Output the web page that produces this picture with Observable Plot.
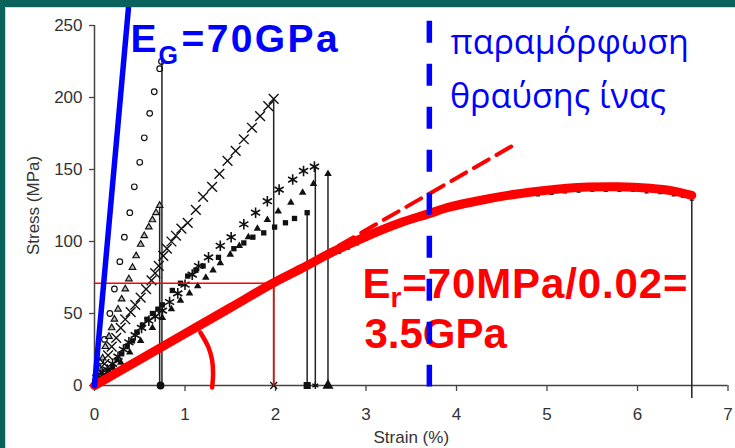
<!DOCTYPE html>
<html><head><meta charset="utf-8">
<script src="https://cdn.jsdelivr.net/npm/d3@7"></script>
<script src="https://cdn.jsdelivr.net/npm/@observablehq/plot@0.6"></script>
<style>
html,body{margin:0;padding:0;background:#fff;}
#frame{width:735px;height:448px;box-sizing:border-box;border-top:7px solid #0a625d;border-left:5px solid #0a625d;overflow:hidden;}
#inner{box-sizing:border-box;border-top:1px solid #bfe3de;border-left:1px solid #bfe3de;width:730px;height:441px;background:#fff;}
#inner svg{display:block;overflow:visible;}
</style></head><body><div id="frame"><div id="inner"></div></div>
<script>
// ---- data (strain %, stress MPa) ----
const xTicks = [0, 1, 2, 3, 4, 5, 6, 7];
const yTicks = [0, 50, 100, 150, 200, 250];

const openCircles = [[0.01,3],[0.04,9],[0.07,17],[0.11,32],[0.17,50],[0.22,67],[0.28,86],[0.33,103],[0.39,120],[0.44,138],[0.50,155],[0.55,172],[0.61,189],[0.66,204],[0.72,220],[0.74,225]];
const openTriangles = [[0.03,6],[0.06,12],[0.09,19],[0.12,27],[0.16,34],[0.19,40],[0.22,46],[0.26,53],[0.30,60],[0.34,67],[0.38,74],[0.42,82],[0.46,90],[0.51,98],[0.55,104],[0.60,110],[0.64,115],[0.68,120],[0.72,125]];
const crosses = [[0.03,4],[0.07,9],[0.11,15],[0.15,21],[0.19,27],[0.24,33],[0.29,40],[0.34,46],[0.40,51],[0.45,56],[0.51,61],[0.57,67],[0.63,73],[0.67,78],[0.71,83],[0.76,90],[0.80,95],[0.85,100],[0.90,104],[0.96,109],[1.03,113],[1.12,122],[1.20,131],[1.30,138],[1.38,147],[1.47,156],[1.56,163],[1.65,171],[1.74,179],[1.83,187],[1.92,194],[1.98,199]];
const squares = [[0.05,3],[0.10,7],[0.15,10],[0.20,13],[0.25,18],[0.30,22],[0.36,27],[0.42,31],[0.47,37],[0.53,42],[0.58,46],[0.64,50],[0.70,53],[0.75,56],[0.86,66],[0.95,71],[1.03,76],[1.12,80],[1.20,83],[1.37,89],[1.54,95],[1.65,99],[1.75,103],[1.87,106],[1.99,110],[2.11,113],[2.21,116],[2.35,120]];
const filledTriangles = [[0.05,3],[0.10,6],[0.15,9],[0.20,12],[0.29,16],[0.39,23],[0.51,31],[0.64,40],[0.75,47],[0.85,53],[0.95,59],[1.05,64],[1.14,69],[1.23,75],[1.31,80],[1.39,85],[1.50,91],[1.60,97],[1.70,103],[1.80,109],[1.91,115],[2.03,121],[2.17,127],[2.30,134],[2.42,140],[2.58,147]];
const asterisks = [[0.04,3],[0.09,7],[0.14,11],[0.20,15],[0.26,20],[0.32,25],[0.38,30],[0.45,35],[0.52,40],[0.60,45],[0.67,48],[0.75,52],[0.83,58],[0.92,64],[1.00,70],[1.08,77],[1.15,83],[1.26,89],[1.39,97],[1.51,103],[1.65,112],[1.78,120],[1.91,128],[2.04,136],[2.19,143],[2.31,149],[2.43,152]];

// fracture drop lines: strain, top stress, bottom stress
const dropStrain = [0.745, 0.72, 1.98, 2.35, 2.44, 2.58, 6.6];
const dropTop    = [225, 125, 199, 120, 152, 147, 132];
const dropBottom = [0, 0, 0, 0, 0, 0, -9];
// markers sitting on the axis at fracture
const footStrain = [0.73, 1.98, 2.35, 2.44, 2.58];
const footSymbol = ["circle", "times", "square", "asterisk", "triangle"];

// matrix (resin) curve, red
const matrixCurve = [[0,0],[0.5,18],[1,36],[1.5,54],[1.97,71],[2.28,81],[2.64,93],[3.02,104],[3.38,113],[3.68,119],[3.93,124],[4.3,129],[4.67,133],[5.22,137],[5.78,138],[6.14,137],[6.4,135],[6.6,132]];
const matrixMarkers = [[2.7,95],[2.8,98],[2.9,101],[3.0,104],[4.9,135],[5.05,136],[5.2,137],[5.35,137.5],[5.5,138],[5.65,138],[5.8,138],[5.95,138],[6.1,137],[6.25,136.5],[6.4,135],[6.5,134],[6.6,132]];
const tangentLine = [[2.45,88],[4.66,168]];
const glassLine = [[0,0],[0.375,262]];
const fibreFailureStrain = [3.70];
const fibreFailureRange = [253, -1];
const slopeRead = [[0,71],[1.98,71],[1.98,0]];
const angleArc = [[1.17,36.8],[1.26,26.4],[1.30,17.4],[1.31,8.3],[1.30,-1.4]];

// annotations (anchor in data units, baseline)
const egText = [
  {t:"E", x:0.398, y:231.3, s:"main"},
  {t:"G", x:0.707, y:223.6, s:"sub"},
  {t:"=70GPa", x:0.961, y:231.3, s:"main"}
];
const erText = [
  {t:"E", x:2.961, y:61.1, s:"main"},
  {t:"r", x:3.271, y:54.2, s:"sub"},
  {t:"=70MPa/0.02=", x:3.400, y:61.1, s:"main"},
  {t:"3.5GPa", x:2.983, y:25.7, s:"main"}
];
const greekText = [
  {t:"παραμόρφωση", x:3.934, y:229.9},
  {t:"θραύσης ίνας", x:3.928, y:192.4}
];

const drops = dropStrain.map((x, i) => ({x, y1: dropTop[i], y2: dropBottom[i]}));
const feet = footStrain.map((x, i) => ({x, y: 0, sym: footSymbol[i]}));
const px = d => d[0], py = d => d[1];
const BLUE = "#0000ff", RED = "#ff0000";
const font = "'Liberation Sans', Arial, Helvetica, sans-serif";

const chart = Plot.plot({
  width: 729, height: 440,
  marginLeft: 88, marginRight: 7.5, marginTop: 17, marginBottom: 63,
  x: {domain: [0, 7]},
  y: {domain: [0, 250]},
  style: {fontFamily: font, fontSize: "17px", color: "#333", background: "transparent", overflow: "visible"},
  marks: [
    Plot.axisY({ticks: yTicks, tickFormat: d3.format("d"), tickSize: 5, tickPadding: 7, fontSize: 17, stroke: "#444", strokeWidth: 1.3, label: "Stress (MPa)", labelAnchor: "center", labelOffset: 68, labelArrow: "none"}),
    Plot.axisX({ticks: xTicks, tickFormat: d3.format("d"), tickSize: 6, tickPadding: 16, fontSize: 17, stroke: "#444", strokeWidth: 1.3, label: "Strain (%)", labelAnchor: "center", labelOffset: 57, labelArrow: "none"}),
    Plot.ruleX([0], {stroke: "#444", strokeWidth: 1.5}),
    Plot.ruleY([0], {stroke: "#444", strokeWidth: 1.5}),
    // fracture drop lines
    Plot.ruleX(drops, {x: "x", y1: "y1", y2: "y2", stroke: "#222", strokeWidth: 1.5}),
    // experimental series
    Plot.dot(openCircles, {x: px, y: py, symbol: "circle", r: 2.8, stroke: "#111", strokeWidth: 1.2, fill: "none"}),
    Plot.dot(openTriangles, {x: px, y: py, symbol: "triangle", r: 2.4, stroke: "#111", strokeWidth: 1.2, fill: "#bbb"}),
    Plot.dot(crosses, {x: px, y: py, symbol: "times", r: 4.5, stroke: "#111", strokeWidth: 1.4}),
    Plot.dot(squares, {x: px, y: py, symbol: "square", r: 3, fill: "#111", stroke: "none"}),
    Plot.dot(filledTriangles, {x: px, y: py, symbol: "triangle", r: 2.8, fill: "#111", stroke: "none"}),
    Plot.dot(asterisks, {x: px, y: py, symbol: "asterisk", r: 5, stroke: "#111", strokeWidth: 1.6}),
    Plot.dot(feet, {x: "x", y: "y", symbol: "sym", r: 3.2, fill: "#111", stroke: "#111", strokeWidth: 1.4}),
    Plot.dot(matrixMarkers, {x: px, y: py, symbol: "triangle", r: 1.7, fill: "#111", dy: 4}),
    // slope reading lines
    Plot.line(slopeRead, {x: px, y: py, stroke: RED, strokeWidth: 1.6}),
    // resin curve and tangent
    Plot.line(tangentLine, {x: px, y: py, stroke: RED, strokeWidth: 4, strokeDasharray: "17,9"}),
    Plot.line(matrixCurve, {x: px, y: py, stroke: RED, strokeWidth: 9, curve: "catmull-rom"}),
    Plot.line(angleArc, {x: px, y: py, stroke: RED, strokeWidth: 4.5, curve: "catmull-rom"}),
    // glass fibre line
    Plot.line(glassLine, {x: px, y: py, stroke: BLUE, strokeWidth: 5.5}),
    // annotations
    Plot.text(egText.filter(d => d.s === "main"), {x: "x", y: "y", text: "t", textAnchor: "start", lineAnchor: "bottom", fontSize: 39, fontWeight: "bold", fill: BLUE}),
    Plot.text(egText.filter(d => d.s === "sub"), {x: "x", y: "y", text: "t", textAnchor: "start", lineAnchor: "bottom", fontSize: 25, fontWeight: "bold", fill: BLUE}),
    Plot.text(greekText, {x: "x", y: "y", text: "t", textAnchor: "start", lineAnchor: "bottom", fontSize: 34, fontFamily: "'Open Sans', sans-serif", fill: BLUE}),
    Plot.text(erText.filter(d => d.s === "main"), {x: "x", y: "y", text: "t", textAnchor: "start", lineAnchor: "bottom", fontSize: 42, fontWeight: "bold", fill: RED}),
    Plot.text(erText.filter(d => d.s === "sub"), {x: "x", y: "y", text: "t", textAnchor: "start", lineAnchor: "bottom", fontSize: 28, fontWeight: "bold", fill: RED}),
    // fibre failure strain (dashed, on top)
    Plot.ruleX(fibreFailureStrain, {y1: fibreFailureRange[0], y2: fibreFailureRange[1], stroke: BLUE, strokeWidth: 5.5, strokeDasharray: "22,21"})
  ]
});
document.getElementById("inner").appendChild(chart);
// adjust letter spacing of the big labels to match the original
const spacing = {"=70GPa": "2.4px", "=70MPa/0.02=": "0.9px"};
d3.select(chart).selectAll("text").each(function(){
  const ls = spacing[this.textContent];
  if (ls) d3.select(this).attr("letter-spacing", ls);
});
</script>
</body></html>
